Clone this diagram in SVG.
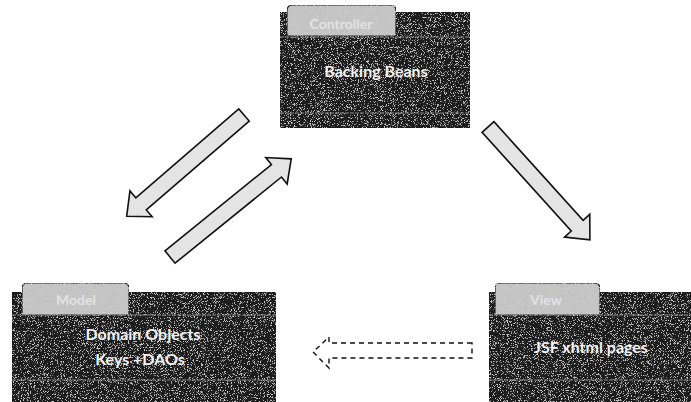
<svg xmlns="http://www.w3.org/2000/svg" width="691" height="402" viewBox="0 0 691 402">
  <defs>
    <filter id="grain" x="0" y="0" width="100%" height="100%">
      <feTurbulence type="fractalNoise" baseFrequency="1.3" numOctaves="2" seed="3" result="n"/>
      <feColorMatrix in="n" type="matrix" values="0 0 0 0 0.6  0 0 0 0 0.6  0 0 0 0 0.6  0 0 0 8 -4.6" result="speck"/>
      <feComposite in="speck" in2="SourceGraphic" operator="in" result="s2"/>
      <feMerge><feMergeNode in="SourceGraphic"/><feMergeNode in="s2"/></feMerge>
    </filter>
    <filter id="grainLight" x="0" y="0" width="100%" height="100%">
      <feTurbulence type="fractalNoise" baseFrequency="1.3" numOctaves="2" seed="7" result="n"/>
      <feColorMatrix in="n" type="matrix" values="0 0 0 0 0.5  0 0 0 0 0.5  0 0 0 0 0.5  0 0 0 8 -4.6" result="speck"/>
      <feComposite in="speck" in2="SourceGraphic" operator="in" result="s2"/>
      <feMerge><feMergeNode in="SourceGraphic"/><feMergeNode in="s2"/></feMerge>
    </filter>
  </defs>
  <style>
    .body { fill: #1a1a1a; filter: url(#grain); }
    .tab { fill: #c6c6c6; stroke: #1a1a1a; stroke-width: 1.2; filter: url(#grainLight); }
    .sep { stroke: #8c8c8c; stroke-width: 1; stroke-dasharray: 4 1; }
    .tabtxt { font-family: Lato, "Liberation Sans", sans-serif; font-size: 14px; font-weight: bold; fill: #e2e2e2; text-anchor: middle; }
    .lbl { font-family: Lato, "Open Sans", "Liberation Sans", sans-serif; font-size: 16px; font-weight: bold; fill: #f2f2f2; text-anchor: middle; }
    .arrow { fill: #e4e4e4; stroke: #111; stroke-width: 1.6; stroke-linejoin: miter; }
    .darrow { fill: #ffffff; stroke: #111; stroke-width: 1.4; stroke-dasharray: 5 4; }
  </style>
  <rect width="691" height="402" fill="#ffffff"/>

  <g id="controller">
    <rect class="body" x="280" y="12" width="190" height="116"/>
    <path class="tab" d="M287,36 V11 Q287,5 293,5 H390 Q396,5 396,11 V36 Z"/>
    <line class="sep" x1="280" y1="37" x2="470" y2="37"/>
    <line class="sep" x1="280" y1="113" x2="470" y2="113"/>
    <text class="tabtxt" x="341" y="29">Controller</text>
    <text class="lbl" x="376" y="77">Backing Beans</text>
  </g>

  <g id="model">
    <rect class="body" x="12" y="292" width="264" height="110"/>
    <path class="tab" d="M22,315 V289 Q22,283 28,283 H123 Q129,283 129,289 V315 Z"/>
    <line class="sep" x1="12" y1="315" x2="276" y2="315"/>
    <line class="sep" x1="12" y1="380" x2="276" y2="380"/>
    <text class="tabtxt" x="76" y="305">Model</text>
    <text class="lbl" x="143" y="340">Domain Objects</text>
    <text class="lbl" x="140" y="365">Keys +DAOs</text>
  </g>

  <g id="view">
    <rect class="body" x="489" y="292" width="202" height="110"/>
    <path class="tab" d="M495,315 V289 Q495,283 501,283 H594 Q600,283 600,289 V315 Z"/>
    <line class="sep" x1="489" y1="315" x2="691" y2="315"/>
    <line class="sep" x1="489" y1="380" x2="691" y2="380"/>
    <text class="tabtxt" x="546" y="305">View</text>
    <text class="lbl" x="591" y="353">JSF xhtml pages</text>
  </g>

  <g id="connectors">
    <!-- Controller -> Model -->
    <polygon class="arrow" transform="translate(244,115) rotate(139.2)" points="0,-8 136,-8 136,-17 155,0 136,17 136,8 0,8"/>
    <!-- Model -> Controller -->
    <polygon class="arrow" transform="translate(170,257) rotate(-39)" points="0,-8 137,-8 137,-17 156,0 137,17 137,8 0,8"/>
    <!-- Controller -> View -->
    <polygon class="arrow" transform="translate(488,127) rotate(47.9)" points="0,-8 133,-8 133,-17 152,0 133,17 133,8 0,8"/>
    <!-- View -> Model (dashed) -->
    <polygon class="darrow" points="472,343 329,343 329,337 313,352 329,368 329,358 472,358"/>
  </g>
</svg>
